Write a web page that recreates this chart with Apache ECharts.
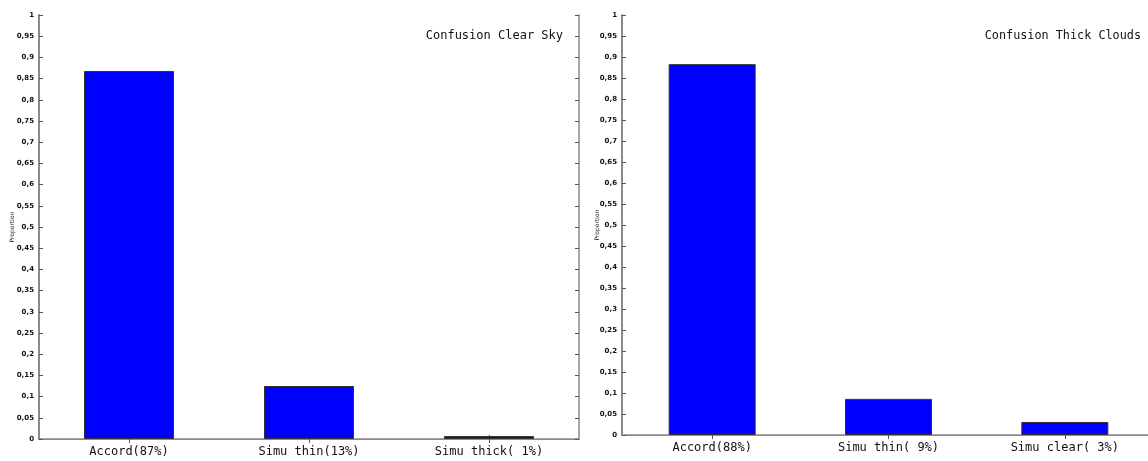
<!DOCTYPE html>
<html>
<head>
<meta charset="utf-8">
<script src="https://cdn.jsdelivr.net/npm/echarts@6/dist/echarts.min.js"></script>
<style>html,body{margin:0;padding:0;background:#fff;overflow:hidden}#c{width:1160px;height:461px}</style>
</head>
<body>
<div id="c"></div>
<script>
var categoriesClear = ['Accord(87%)', 'Simu thin(13%)', 'Simu thick( 1%)'];
var valuesClear = [0.868, 0.125, 0.007];
var categoriesThick = ['Accord(88%)', 'Simu thin( 9%)', 'Simu clear( 3%)'];
var valuesThick = [0.883, 0.086, 0.031];
var titleClear = 'Confusion Clear Sky';
var titleThick = 'Confusion Thick Clouds';
var yName = 'Proportion';

var mono = '"DejaVu Sans Mono", "Liberation Mono", monospace';
function fmt(v) {
  if (Math.abs(v) < 1e-9) return '0';
  if (Math.abs(v - 1) < 1e-9) return '1';
  return v.toFixed(2).replace(/0$/, '').replace('.', ',');
}
var axisColor = '#8a8a8a';
function xAx(grid, cats, pos) {
  return {
    type: 'category', gridIndex: grid, data: cats, position: pos,
    axisLine: {show: true, lineStyle: {color: axisColor, width: pos === 'bottom' ? 1.5 : 1}},
    axisTick: {show: true, inside: true, length: 4, alignWithLabel: true, lineStyle: {color: '#555'}},
    axisLabel: {show: pos === 'bottom', fontFamily: mono, fontSize: 12, color: '#111', margin: 7},
    splitLine: {show: false}
  };
}
function yAx(grid, pos, gap, off) {
  return {
    type: 'value', gridIndex: grid, min: 0, max: 1, interval: 0.05, position: pos, offset: off || 0,
    name: pos === 'left' ? yName : '', nameLocation: 'middle', nameGap: gap || 27, nameRotate: 90,
    nameMoveOverlap: false,
    nameTextStyle: {fontSize: 6, color: '#222', fontFamily: 'DejaVu Sans'},
    axisLine: {show: true, lineStyle: {color: axisColor, width: pos === 'left' ? 2 : 1.5}},
    axisTick: {show: true, inside: true, length: 4, lineStyle: {color: '#555'}},
    axisLabel: {show: pos === 'left', formatter: fmt, fontSize: 7, fontWeight: 'bold', color: '#111', fontFamily: 'DejaVu Sans', margin: 5},
    splitLine: {show: false}
  };
}
var chart = echarts.init(document.getElementById('c'), null, {renderer: 'canvas'});
chart.setOption({
  backgroundColor: '#fff',
  animation: false,
  title: [
    {text: titleClear, right: 592, top: 25, textStyle: {fontFamily: mono, fontSize: 12, fontWeight: 'normal', color: '#111'}},
    {text: titleThick, right: 14, top: 25, textStyle: {fontFamily: mono, fontSize: 11.8, fontWeight: 'normal', color: '#111'}}
  ],
  grid: [
    {left: 39, top: 15, width: 540, height: 424},
    {left: 624, top: 15, width: 529, height: 420}
  ],
  xAxis: [
    xAx(0, categoriesClear, 'bottom'), xAx(0, categoriesClear, 'top'),
    xAx(1, categoriesThick, 'bottom'), xAx(1, categoriesThick, 'top')
  ],
  yAxis: [yAx(0, 'left', 24), yAx(0, 'right'), yAx(1, 'left', 22, 2), yAx(1, 'right')],
  series: [
    {type: 'bar', xAxisIndex: 0, yAxisIndex: 0, data: valuesClear, barWidth: 90,
     itemStyle: {color: '#0000ff', borderColor: '#333', borderWidth: 1}},
    {type: 'bar', xAxisIndex: 2, yAxisIndex: 2, data: valuesThick, barWidth: 87,
     itemStyle: {color: '#0000ff', borderColor: '#333', borderWidth: 1}}
  ]
});
</script>
</body>
</html>
